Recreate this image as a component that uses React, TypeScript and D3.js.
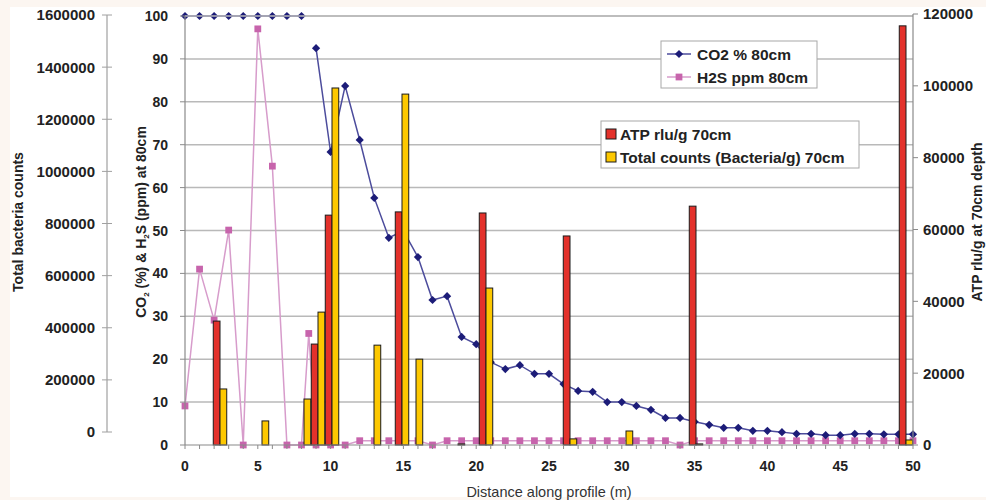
import React from 'react';
import * as d3 from 'd3';

// one row per sampling point (bars are drawn per row, lines per distance)
const distance = [0, 1, 2, 3, 4, 5, 6, 7, 8, 8.5, 9, 10, 11, 12, 13, 14, 15, 16, 17, 18, 19, 20, 21, 22, 23, 24, 25, 26, 27, 28, 29, 30, 31, 32, 33, 34, 35, 36, 37, 38, 39, 40, 41, 42, 43, 44, 45, 46, 47, 48, 49, 50];

const co2 = [100, 100, 100, 100, 100, 100, 100, 100, 100, null, 92.5, 68.3, 83.7, 71.1, 57.6, 48.3, 49.9, 43.8, 33.8, 34.7, 25.2, 23.5, 19.3, 17.7, 18.6, 16.6, 16.6, 14.2, 12.6, 12.4, 10.0, 10.0, 9.1, 8.2, 6.3, 6.3, 5.4, 4.7, 4.0, 4.0, 3.3, 3.3, 3.0, 2.6, 2.6, 2.3, 2.3, 2.6, 2.6, 2.5, 2.5, 2.5];

const h2s = [9.1, 41, 29.1, 50.1, 0, 97, 65, 0, 0, 26, 0, 0, 0, 1, 1, 1, 1, 1, 0, 1, 1, 1, 1, 1, 1, 1, 1, 1, 1, 1, 1, 1, 1, 1, 1, 0, 1, 1, 1, 1, 1, 1, 1, 1, 1, 1, 1, 1, 1, 1, 1, 1];

// bar values on the right-hand (ATP) scale
const atp = [0, 0, 34500, 0, 0, 0, 0, 0, 0, 28100, 64000, 0, 0, 0, 0, 64900, 0, 0, 0, 0, 0, 64600, 0, 0, 0, 0, 0, 58200, 0, 0, 0, 0, 0, 0, 0, 0, 66500, 0, 0, 0, 0, 0, 0, 0, 0, 0, 0, 0, 0, 0, 0, 116700];
const counts = [0, 0, 15600, 0, 0, 6700, 0, 0, 12800, 37000, 99400, 0, 0, 27800, 0, 97700, 23900, 0, 0, 300, 0, 43700, 0, 0, 0, 0, 0, 1700, 0, 0, 0, 3900, 0, 0, 0, 0, 300, 0, 0, 0, 0, 0, 0, 0, 0, 0, 0, 0, 0, 0, 0, 1400];

const xTicks = [0, 5, 10, 15, 20, 25, 30, 35, 40, 45, 50];
const midTicks = [0, 10, 20, 30, 40, 50, 60, 70, 80, 90, 100];
const leftTicks = [0, 200000, 400000, 600000, 800000, 1000000, 1200000, 1400000, 1600000];
const rightTicks = [0, 20000, 40000, 60000, 80000, 100000, 120000];

const W = 986;
const H = 500;
const L = 185;
const R = 913;
const T = 16;
const B = 445;
const font = '"Liberation Sans", Arial, sans-serif';

const CO2_DOT = '#1c1c78';
const CO2_LINE = '#4c4c9c';
const H2S_DOT = '#c764ac';
const H2S_LINE = '#d79ccb';
const RED = '#e3312b';
const YELLOW = '#fdc800';

export default function App() {
  const x = d3.scaleLinear().domain([0, 50]).range([L, R]);
  const y = d3.scaleLinear().domain([0, 100]).range([B, T]);
  const yRight = d3.scaleLinear().domain([0, 120000]).range([B, 14]);
  const yLeft = d3.scaleLinear().domain([0, 1600000]).range([432, 15]);

  const band = d3.scaleBand<number>().domain(distance.map((_, i) => i)).range([L, R]);
  const inner = d3.scaleBand<string>().domain(['atp', 'counts']).range([0, band.bandwidth()]).paddingOuter(0.04);

  const line = (vals: (number | null)[]) =>
    d3.line<number>()
      .defined((_, i) => vals[i] !== null)
      .x((_, i) => x(distance[i]))
      .y((_, i) => y(vals[i] as number))(distance.map((_, i) => i)) || '';

  const diamond = d3.symbol(d3.symbolSquare, 34)() || '';
  const square = d3.symbol(d3.symbolSquare, 46)() || '';
  const minor = d3.range(0, 51);

  return (
    <div style={{ position: 'absolute', left: 0, top: 0 }}>
      <svg width={W} height={H} style={{ display: 'block', fontFamily: font }}>
        <rect width={W} height={H} fill="#fcf6f1" />
        <rect x={10} y={7} width={W - 10} height={H - 10} fill="#ffffff" />

        {/* grid */}
        {midTicks.filter(t => t > 0).map(t => (
          <line key={t} x1={L} x2={R} y1={y(t)} y2={y(t)} stroke="#b9b9b9" strokeWidth={1.5} />
        ))}

        {/* lines */}
        <path d={line(h2s)} fill="none" stroke={H2S_LINE} strokeWidth={1.5} />
        {h2s.map((v, i) => (
          <path key={'h' + i} d={square} transform={`translate(${x(distance[i])},${y(v)})`} fill={H2S_DOT} />
        ))}
        <path d={line(co2)} fill="none" stroke={CO2_LINE} strokeWidth={1.5} />
        {co2.map((v, i) => v === null ? null : (
          <path key={'c' + i} d={diamond} transform={`translate(${x(distance[i])},${y(v)}) rotate(45)`} fill={CO2_DOT} />
        ))}

        {/* bars */}
        {atp.map((v, i) => v > 0 ? (
          <rect key={'a' + i} x={(band(i) as number) + (inner('atp') as number)} y={yRight(v)} width={inner.bandwidth()} height={B - yRight(v)} fill={RED} stroke="#1a1a1a" strokeWidth={1} />
        ) : null)}
        {counts.map((v, i) => v > 0 ? (
          <rect key={'b' + i} x={(band(i) as number) + (inner('counts') as number)} y={yRight(v)} width={inner.bandwidth()} height={B - yRight(v)} fill={YELLOW} stroke="#1a1a1a" strokeWidth={1} />
        ) : null)}

        {/* x axis */}
        <line x1={L} x2={R} y1={B} y2={B} stroke="#8a8a8a" strokeWidth={1.2} />
        <line x1={L} x2={R} y1={T} y2={T} stroke="#b9b9b9" strokeWidth={1.5} />
        {minor.map(t => (
          <line key={t} x1={x(t)} x2={x(t)} y1={B} y2={B + 4} stroke="#8a8a8a" />
        ))}
        {xTicks.map(t => (
          <text key={t} x={x(t)} y={471} textAnchor="middle" fontSize={14} fontWeight="bold" fill="#222">{t}</text>
        ))}
        <text x={(L + R) / 2} y={497} textAnchor="middle" fontSize={14.5} fill="#333">Distance along profile (m)</text>

        {/* middle axis */}
        <line x1={L} x2={L} y1={T} y2={B} stroke="#8a8a8a" strokeWidth={1.2} />
        {midTicks.map(t => (
          <g key={t}>
            <line x1={L - 5} x2={L} y1={y(t)} y2={y(t)} stroke="#8a8a8a" />
            <text x={168} y={y(t)} dy="0.36em" textAnchor="end" fontSize={14} fontWeight="bold" fill="#222">{t}</text>
          </g>
        ))}
        <text transform={`translate(146,222) rotate(-90)`} textAnchor="middle" fontSize={14} fontWeight="bold" fill="#222">
          CO<tspan fontSize={8} dy={3}>2</tspan><tspan dy={-3}> (%) &amp; H</tspan><tspan fontSize={8} dy={3}>2</tspan><tspan dy={-3}>S (ppm) at 80cm</tspan>
        </text>

        {/* left axis */}
        <line x1={107} x2={107} y1={yLeft(1600000)} y2={yLeft(0)} stroke="#a0a0a0" strokeWidth={1.2} />
        {leftTicks.map(t => (
          <g key={t}>
            <line x1={102} x2={112} y1={yLeft(t)} y2={yLeft(t)} stroke="#a0a0a0" />
            <text x={95} y={yLeft(t)} dy="0.36em" textAnchor="end" fontSize={15} fontWeight="bold" fill="#222">{t}</text>
          </g>
        ))}
        <text transform={`translate(23,222) rotate(-90)`} textAnchor="middle" fontSize={14} fontWeight="bold" fill="#222">Total bacteria counts</text>

        {/* right axis */}
        <line x1={R} x2={R} y1={yRight(120000)} y2={B} stroke="#8a8a8a" strokeWidth={1.2} />
        {rightTicks.map(t => (
          <g key={t}>
            <line x1={R} x2={R + 5} y1={yRight(t)} y2={yRight(t)} stroke="#8a8a8a" />
            <text x={923} y={yRight(t)} dy="0.36em" textAnchor="start" fontSize={15} fontWeight="bold" fill="#222">{t}</text>
          </g>
        ))}
        <text transform={`translate(982,222) rotate(-90)`} textAnchor="middle" fontSize={14} fontWeight="bold" fill="#222">ATP rlu/g at 70cm depth</text>

        {/* legend: lines */}
        <rect x={661} y={41} width={156} height={47} fill="#fff" stroke="#a8a8a8" />
        <line x1={667} x2={691} y1={54} y2={54} stroke={CO2_LINE} strokeWidth={1.5} />
        <path d={diamond} transform="translate(679,54) rotate(45)" fill={CO2_DOT} />
        <text x={697} y={59.5} fontSize={15.5} fontWeight="bold" fill="#222">CO2 % 80cm</text>
        <line x1={667} x2={691} y1={77} y2={77} stroke={H2S_LINE} strokeWidth={1.5} />
        <path d={square} transform="translate(679,77)" fill={H2S_DOT} />
        <text x={697} y={82.5} fontSize={15.5} fontWeight="bold" fill="#222">H2S ppm 80cm</text>

        {/* legend: bars */}
        <rect x={601} y={121} width={258} height={47} fill="#fff" stroke="#a8a8a8" />
        <rect x={606} y={129} width={10} height={10} fill={RED} stroke="#1a1a1a" />
        <text x={620} y={139.5} fontSize={15.5} fontWeight="bold" fill="#222">ATP rlu/g 70cm</text>
        <rect x={606} y={152} width={10} height={10} fill={YELLOW} stroke="#1a1a1a" />
        <text x={620} y={162.5} fontSize={15.5} fontWeight="bold" fill="#222">Total counts (Bacteria/g) 70cm</text>
      </svg>
    </div>
  );
}
